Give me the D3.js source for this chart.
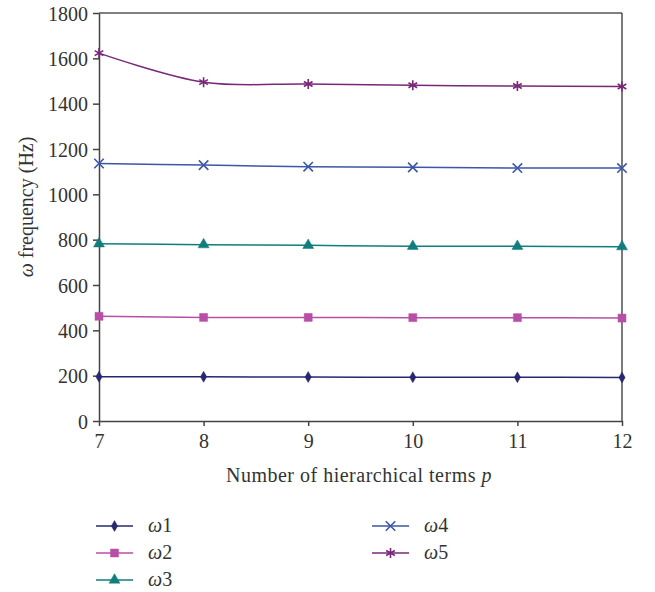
<!DOCTYPE html>
<html>
<head>
<meta charset="utf-8">
<script src="https://cdn.jsdelivr.net/npm/d3@7"></script>
<style>
  body { margin: 0; background: #fff; }
  svg text { font-family: "Liberation Serif", "DejaVu Serif", serif; fill: #333; }
</style>
</head>
<body>
<svg id="chart" width="655" height="592"></svg>
<script>
// data
const pTerms = [7, 8, 9, 10, 11, 12];
const yTicks = [0, 200, 400, 600, 800, 1000, 1200, 1400, 1600, 1800];
const omega1 = [195, 195, 194, 193, 193, 192];
const omega2 = [462, 457, 457, 456, 456, 454];
const omega3 = [782, 778, 775, 771, 771, 769];
const omega4 = [1136, 1129, 1122, 1119, 1116, 1116];
const omega5 = [1623, 1495, 1487, 1481, 1478, 1476];
const seriesNames = ["1", "2", "3", "4", "5"];

const series = [
    { name: seriesNames[0], values: omega1, color: "#27286f", marker: "diamond" },
    { name: seriesNames[1], values: omega2, color: "#b84fa6", marker: "square" },
    { name: seriesNames[2], values: omega3, color: "#0f7e7c", marker: "triangle" },
    { name: seriesNames[3], values: omega4, color: "#3c56a8", marker: "cross" },
    { name: seriesNames[4], values: omega5, color: "#782878", marker: "star" }
];

const svg = d3.select("#chart");
const margin = { left: 99, top: 13, right: 33, bottom: 171 };
const width = 655 - margin.left - margin.right;
const height = 592 - margin.top - margin.bottom;

const x = d3.scaleLinear().domain([7, 12]).range([0, width]);
const y = d3.scaleLinear().domain([0, 1800]).range([height, 0]);

const g = svg.append("g").attr("transform", `translate(${margin.left},${margin.top})`);

//frame top + right
g.append("line").attr("x1", 0).attr("x2", width).attr("y1", 0).attr("y2", 0)
    .attr("stroke", "#555").attr("stroke-width", 1.5);
g.append("line").attr("x1", width).attr("x2", width).attr("y1", 0).attr("y2", height)
    .attr("stroke", "#222").attr("stroke-width", 1.2);

//axes
const xAxis = g.append("g").attr("transform", `translate(0,${height})`)
    .call(d3.axisBottom(x).tickValues(pTerms).tickFormat(d3.format("d"))
        .tickSize(5).tickSizeOuter(0).tickPadding(8));
const yAxis = g.append("g")
    .call(d3.axisLeft(y).tickValues(yTicks).tickFormat(d3.format("d"))
        .tickSize(6).tickSizeOuter(0).tickPadding(5));
[xAxis, yAxis].forEach(a => {
    a.selectAll("path, line").attr("stroke", "#444").attr("stroke-width", 1.5);
    a.selectAll("text").attr("font-size", 20).attr("fill", "#333")
        .style("font-family", "'Liberation Serif', serif");
});
yAxis.selectAll("text").attr("dy", "0.35em");

//axis titles
const yTitle = svg.append("text")
    .attr("transform", `translate(33,207) rotate(-90)`)
    .attr("text-anchor", "middle").attr("font-size", 20);
yTitle.append("tspan").attr("font-style", "italic").text("ω");
yTitle.append("tspan").text(" frequency (Hz)");

const xTitle = svg.append("text")
    .attr("x", 359).attr("y", 482)
    .attr("text-anchor", "middle").attr("font-size", 20)
    .attr("letter-spacing", 0.5);
xTitle.append("tspan").text("Number of hierarchical terms ");
xTitle.append("tspan").attr("font-style", "italic").text("p");

//markers
const symbolFor = {
    diamond: d3.symbol().type(d3.symbolDiamond).size(34),
    square: d3.symbol().type(d3.symbolSquare).size(64),
    triangle: d3.symbol().type(d3.symbolTriangle).size(52),
    cross: d3.symbol().type(d3.symbolTimes).size(60),
    star: d3.symbol().type(d3.symbolAsterisk).size(70)
};
function drawMarker(sel, s) {
    const stroked = s.marker === "cross" || s.marker === "star";
    sel.append("path")
        .attr("d", symbolFor[s.marker]())
        .attr("fill", stroked ? "none" : s.color)
        .attr("stroke", s.color)
        .attr("stroke-width", stroked ? 1.6 : 0.5);
}

const line = d3.line()
    .x((d, i) => x(pTerms[i]))
    .y(d => y(d))
    .curve(d3.curveCatmullRom.alpha(0.5));

series.forEach(s => {
    g.append("path")
        .datum(s.values)
        .attr("fill", "none")
        .attr("stroke", s.color)
        .attr("stroke-width", 1.5)
        .attr("d", line);
    g.selectAll(null).data(s.values).join("g")
        .attr("transform", (d, i) => `translate(${x(pTerms[i])},${y(d)})`)
        .each(function(){ drawMarker(d3.select(this), s); });
});

//legend
const legendPos = [
    { x: 96, y: 526 }, { x: 96, y: 553 }, { x: 96, y: 580 },
    { x: 372, y: 526 }, { x: 372, y: 553 }
];
series.forEach((s, i) => {
    const lg = svg.append("g").attr("transform", `translate(${legendPos[i].x},${legendPos[i].y})`);
    lg.append("line").attr("x1", 0).attr("x2", 37).attr("y1", 0).attr("y2", 0)
        .attr("stroke", s.color).attr("stroke-width", 1.5);
    drawMarker(lg.append("g").attr("transform", "translate(18.5,0)"), s);
    const t = lg.append("text").attr("x", 52).attr("y", 6).attr("font-size", 20);
    t.append("tspan").attr("font-style", "italic").text("ω");
    t.append("tspan").text(s.name);
});
</script>
</body>
</html>
